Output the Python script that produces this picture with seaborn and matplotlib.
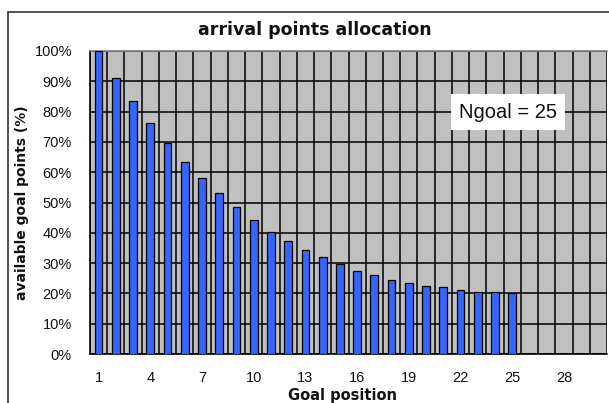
import matplotlib
matplotlib.use("Agg")
import matplotlib.pyplot as plt
from matplotlib.lines import Line2D
import seaborn as sns
import pandas as pd

# ---- data ----
positions = [str(i) for i in range(1, 31)]          # category axis 1..30
goal_positions = [str(i) for i in range(1, 26)]     # bars exist for 1..25
points_pct = [100.0, 91.2, 83.4, 76.3, 69.7, 63.5, 58.0, 53.2, 48.6, 44.2,
              40.4, 37.4, 34.4, 31.9, 29.6, 27.4, 26.1, 24.5, 23.5, 22.5,
              22.0, 21.1, 20.6, 20.4, 20.0]
x_tick_labels = ["1", "4", "7", "10", "13", "16", "19", "22", "25", "28"]
y_ticks = [0, 10, 20, 30, 40, 50, 60, 70, 80, 90, 100]
title = "arrival points allocation"
x_label = "Goal position"
y_label = "available goal points (%)"
note = "Ngoal = 25"

df = pd.DataFrame({"pos": goal_positions, "pct": points_pct})

sns.set_style("white")
plt.rcParams["font.family"] = ["Liberation Sans", "DejaVu Sans"]

W, H = 609, 403
fig = plt.figure(figsize=(W / 100, H / 100), dpi=100)
fig.patch.set_facecolor("white")

# plot area in pixel coordinates
left, right, top, bottom = 90, 607, 51, 354
pw, ph = right - left, bottom - top
ax = fig.add_axes([left / W, 1 - bottom / H, pw / W, ph / H])
ax.set_facecolor("#C0C0C0")

sns.barplot(data=df, x="pos", y="pct", order=positions, ax=ax,
            color="#3366FF", saturation=1, width=0.45,
            edgecolor="black", linewidth=0.9, zorder=3)
for p in ax.patches:
    p.set_zorder(3)

ax.set_xlim(-0.5, len(positions) - 0.5)
ax.set_ylim(0, 100)

# y axis
ax.set_yticks(y_ticks)
ax.set_yticklabels([f"{v}%" for v in y_ticks], fontsize=10.5, color="#111111")
ax.tick_params(axis="y", direction="inout", length=8, width=1, color="black", pad=9)

# x axis: ticks at category boundaries, labels at every 3rd category center
bounds = [i - 0.5 for i in range(len(positions) + 1)]
ax.set_xticks(bounds)
ax.set_xticklabels([""] * len(bounds))
label_pos = [positions.index(l) for l in x_tick_labels]
ax.set_xticks(label_pos, minor=True)
ax.set_xticklabels(x_tick_labels, minor=True, fontsize=10.5, color="#111111")
ax.tick_params(axis="x", which="major", direction="out", length=5, width=1, color="black")
ax.tick_params(axis="x", which="minor", length=0, pad=12)

# black grid
ax.grid(True, which="major", axis="both", color="black", linewidth=1.1, zorder=1)
ax.set_axisbelow(True)

for s in ["left", "bottom"]:
    ax.spines[s].set_color("black")
    ax.spines[s].set_linewidth(1.2)
ax.spines["top"].set_color("#808080")
ax.spines["top"].set_linewidth(1.2)
ax.spines["right"].set_visible(False)

ax.set_xlabel(x_label, fontsize=10.5, fontweight="bold",
              family=["DejaVu Sans"], color="#111111")
ax.set_ylabel(y_label, fontsize=10, fontweight="bold",
              family=["DejaVu Sans"], color="#111111")
ax.xaxis.set_label_coords((342 - left) / pw, -(388 - bottom) / ph)
ax.yaxis.set_label_coords(-(left - 29) / pw, 0.5)

fig.text(315 / W, 1 - 30 / H, title, ha="center", va="center",
         fontsize=12.5, fontweight="bold", family=["DejaVu Sans"], color="#111111")

# annotation box
ax.text((508 - left) / pw, 1 - (112 - top) / ph, note,
        transform=ax.transAxes, ha="center", va="center", fontsize=14.5,
        color="#111111", zorder=5,
        bbox=dict(boxstyle="square,pad=0.4", facecolor="white", edgecolor="none"))

# chart frame (cut off on the right and bottom)
fig.add_artist(Line2D([8 / W, 8 / W], [0, 1 - 12 / H], color="#333333", linewidth=1.2))
fig.add_artist(Line2D([8 / W, 1], [1 - 12 / H, 1 - 12 / H], color="#333333", linewidth=1.2))

fig.savefig("out.png", dpi=100)
